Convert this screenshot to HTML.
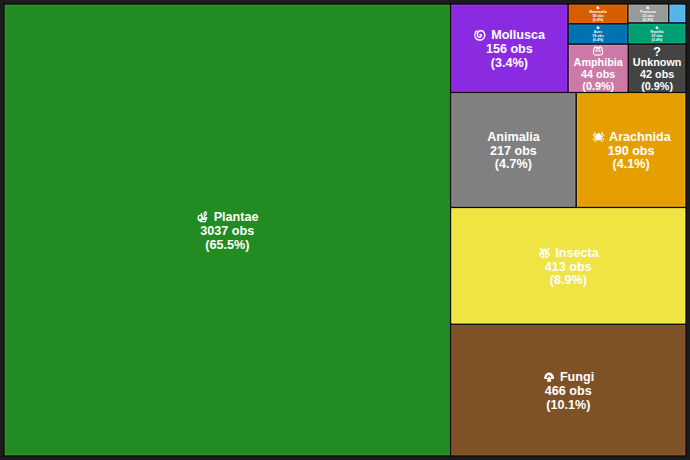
<!DOCTYPE html>
<html><head><meta charset="utf-8"><style>
html,body{margin:0;padding:0;background:#1c1c1c;width:690px;height:460px;overflow:hidden;position:relative}
svg.bg{position:absolute;left:0;top:0}
.ln{position:absolute;transform:translateX(-50%);color:#fff;font-family:"Liberation Sans",sans-serif;font-weight:bold;white-space:nowrap;line-height:0}
.l{font-size:12.6px}
.m{font-size:10.8px}
.q{font-size:12.4px}
.ic{display:inline-block;width:14px;height:0;position:relative;margin-right:3.5px;vertical-align:baseline}
.ic svg{position:absolute;left:50%;top:var(--o);transform:translate(-50%,-50%)}
.icn{position:absolute;width:0;height:0}
.icn svg{position:absolute;left:0;top:0;transform:translate(-50%,-50%)}
.sm{position:absolute;width:0;height:0}
.sm .inner{position:absolute;left:0;top:0;transform:translate(-50%,-50%) scale(0.36);color:#fff;font-family:"Liberation Sans",sans-serif;font-weight:bold;white-space:nowrap;text-align:center;font-size:10px;line-height:11.2px}
.sic{display:inline-block;width:8px;height:8px;background:#fff;border-radius:45% 55% 35% 40%;opacity:0.9}
</style></head><body>
<svg class="bg" width="690" height="460" viewBox="0 0 690 460">
<g stroke="#0c0c10" stroke-width="1.5">
<rect x="4.00" y="4.00" width="446.60" height="452.00" fill="#228B22"/>
<rect x="450.60" y="324.20" width="235.40" height="131.80" fill="#7F5126"/>
<rect x="450.60" y="207.40" width="235.40" height="116.80" fill="#F0E442"/>
<rect x="450.60" y="92.40" width="125.60" height="115.00" fill="#808080"/>
<rect x="576.20" y="92.40" width="109.80" height="115.00" fill="#E69F00"/>
<rect x="450.60" y="4.00" width="117.50" height="88.40" fill="#8A2BE2"/>
<rect x="568.10" y="44.00" width="60.20" height="48.40" fill="#CC79A7"/>
<rect x="628.30" y="44.00" width="57.70" height="48.40" fill="#444444"/>
<rect x="568.10" y="4.00" width="59.80" height="19.90" fill="#D55E00"/>
<rect x="568.10" y="23.90" width="59.80" height="20.10" fill="#0072B2"/>
<rect x="627.90" y="4.00" width="40.90" height="19.00" fill="#999999"/>
<rect x="668.80" y="4.00" width="17.20" height="19.00" fill="#56B4E9"/>
<rect x="627.90" y="23.00" width="58.10" height="21.00" fill="#009E73"/>
</g><g stroke-width="1" opacity="0.55">
<rect x="5.25" y="5.25" width="444.10" height="449.50" fill="none" stroke="#2eaa2e"/>
<rect x="451.85" y="325.45" width="232.90" height="129.30" fill="none" stroke="#9b6532"/>
<rect x="451.85" y="208.65" width="232.90" height="114.30" fill="none" stroke="#ffff53"/>
<rect x="451.85" y="93.65" width="123.10" height="112.50" fill="none" stroke="#9d9d9d"/>
<rect x="577.45" y="93.65" width="107.30" height="112.50" fill="none" stroke="#ffc106"/>
<rect x="451.85" y="5.25" width="115.00" height="85.90" fill="none" stroke="#a838ff"/>
<rect x="569.35" y="45.25" width="57.70" height="45.90" fill="none" stroke="#f694cb"/>
<rect x="629.55" y="45.25" width="55.20" height="45.90" fill="none" stroke="#565656"/>
<rect x="569.35" y="5.25" width="57.30" height="17.40" fill="none" stroke="#ff7406"/>
<rect x="569.35" y="25.15" width="57.30" height="17.60" fill="none" stroke="#068cd8"/>
<rect x="629.15" y="5.25" width="38.40" height="16.50" fill="none" stroke="#bababa"/>
<rect x="670.05" y="5.25" width="14.70" height="16.50" fill="none" stroke="#6bdaff"/>
<rect x="629.15" y="24.25" width="55.60" height="18.50" fill="none" stroke="#06c08d"/>
</g></svg>
<div class="ln l" style="left:227.30px;top:216.95px"><span class="ic" style="--o:-4.45px"><svg width="12" height="12" viewBox="0 0 12 12"><g fill="none" stroke="#fff" stroke-width="1.25" stroke-linejoin="round">
<ellipse cx="3.3" cy="7.0" rx="2.0" ry="2.7"/>
<ellipse cx="8.35" cy="2.7" rx="1.05" ry="1.9" transform="rotate(15 8.35 2.7)"/>
<path d="M2.8 8.3 L9.2 8.3 L8.5 10.7 L3.5 10.7 Z"/>
<path d="M5.6 8.2 L4.8 3.8 M6.4 8.2 L7.9 4.6 M7.4 8 L9.6 7"/></g>
<g fill="#fff"><ellipse cx="4.6" cy="3.1" rx="0.8" ry="1.2"/><ellipse cx="9.3" cy="6.9" rx="1.4" ry="0.9"/></g></svg></span>Plantae</div>
<div class="ln l" style="left:227.30px;top:230.75px">3037 obs</div>
<div class="ln l" style="left:227.30px;top:244.55px">(65.5%)</div>
<div class="ln l" style="left:568.30px;top:377.05px"><span class="ic" style="--o:-4.2px"><svg width="11" height="10" viewBox="0 0 11 10"><g fill="#fff">
<path d="M0.6 7 C0.4 3 3 0.6 5.5 0.6 C8 0.6 10.6 3 10.4 7 Z"/><path d="M3.8 6.5 L7.2 6.5 L7.6 9.8 L3.4 9.8 Z"/></g>
<path d="M3 6 C3 4.5 4 3 5.2 3 C6.2 3.2 7 4.5 7.6 6 Z" fill="#7F5126"/><rect x="4.5" y="4.8" width="2" height="2.2" fill="#fff"/></svg></span>Fungi</div>
<div class="ln l" style="left:568.30px;top:390.85px">466 obs</div>
<div class="ln l" style="left:568.30px;top:404.65px">(10.1%)</div>
<div class="ln l" style="left:568.30px;top:252.75px"><span class="ic" style="--o:-3.75px"><svg width="12" height="11" viewBox="0 0 12 11"><g stroke="#fff" stroke-width="1.1" stroke-linecap="round"><path d="M3.6 2.6 L1.1 0.7 M8.4 2.6 L10.9 0.7"/></g><g fill="#fff">
<ellipse cx="6" cy="3.3" rx="2.8" ry="2.1"/>
<ellipse cx="6" cy="6.9" rx="5.2" ry="4.1"/>
</g><g fill="#F0E442"><rect x="5.55" y="4.6" width="0.9" height="6.4"/><ellipse cx="3.3" cy="8.1" rx="1.1" ry="1.4"/><ellipse cx="8.7" cy="8.1" rx="1.1" ry="1.4"/><path d="M4.2 3.9 Q6 3 7.8 3.9 L7.8 4.5 Q6 3.7 4.2 4.5 Z"/><ellipse cx="2.6" cy="5.3" rx="0.8" ry="0.5"/><ellipse cx="9.4" cy="5.3" rx="0.8" ry="0.5"/></g></svg></span>Insecta</div>
<div class="ln l" style="left:568.30px;top:266.55px">413 obs</div>
<div class="ln l" style="left:568.30px;top:280.35px">(8.9%)</div>
<div class="ln l" style="left:513.40px;top:136.85px">Animalia</div>
<div class="ln l" style="left:513.40px;top:150.65px">217 obs</div>
<div class="ln l" style="left:513.40px;top:164.45px">(4.7%)</div>
<div class="ln l" style="left:631.10px;top:136.85px"><span class="ic" style="--o:-3.7px"><svg width="12" height="11" viewBox="0 0 12 11"><g stroke="#fff" stroke-width="1.1" fill="none" stroke-linecap="round">
<path d="M4.6 4.2 L2.6 2.8 L2.2 0.8 M4.4 5.4 L1.6 4.6 L0.6 3 M4.4 6.4 L1.6 7.2 L0.8 8.6 M4.8 7.4 L3 9 L2.6 10.4
M7.4 4.2 L9.4 2.8 L9.8 0.8 M7.6 5.4 L10.4 4.6 L11.4 3 M7.6 6.4 L10.4 7.2 L11.2 8.6 M7.2 7.4 L9 9 L9.4 10.4"/></g>
<ellipse cx="6" cy="6" rx="2.6" ry="2.9" fill="#fff"/><ellipse cx="6" cy="2.7" rx="1.5" ry="1.2" fill="#fff"/></svg></span>Arachnida</div>
<div class="ln l" style="left:631.10px;top:150.65px">190 obs</div>
<div class="ln l" style="left:631.10px;top:164.45px">(4.1%)</div>
<div class="ln l" style="left:509.35px;top:35.15px"><span class="ic" style="--o:-3.85px"><svg width="12" height="12" viewBox="0 0 12 12"><path d="M2.53 2.00 L2.15 2.30 L1.80 2.63 L1.48 3.00 L1.20 3.39 L0.95 3.81 L0.75 4.25 L0.60 4.71 L0.49 5.18 L0.42 5.66 L0.40 6.14 L0.43 6.63 L0.50 7.11 L0.62 7.57 L0.79 8.03 L1.00 8.47 L1.25 8.88 L1.53 9.27 L1.86 9.63 L2.22 9.96 L2.60 10.25 L3.02 10.50 L3.45 10.71 L3.91 10.87 L4.38 10.99 L4.86 11.07 L5.34 11.10 L5.82 11.08 L6.30 11.02 L6.77 10.91 L7.23 10.75 L7.67 10.55 L8.09 10.31 L8.49 10.03 L8.85 9.71 L9.19 9.36 L9.49 8.98 L9.75 8.57 L9.96 8.14 L10.14 7.69 L10.27 7.22 L10.36 6.75 L10.40 6.27 L10.39 5.78 L10.34 5.30 L10.24 4.83 L10.09 4.37 L9.90 3.92 L9.67 3.49 L9.40 3.09 L9.09 2.72 L8.74 2.38 L8.36 2.09 L7.89 1.93 L7.42 1.83 L6.95 1.78 L6.49 1.78 L6.05 1.83 L5.63 1.92 L5.23 2.05 L4.85 2.22 L4.51 2.42 L4.21 2.65 L3.93 2.90 L3.70 3.18 L3.50 3.46 L3.34 3.76 L3.22 4.06 L3.14 4.36 L3.10 4.66 L3.09 4.95 L3.11 5.23 L3.10 5.47 L3.07 5.69 L3.06 5.92 L3.07 6.15 L3.10 6.37 L3.16 6.59 L3.23 6.80 L3.33 7.00 L3.44 7.19 L3.57 7.36 L3.71 7.52 L3.87 7.66 L4.04 7.79 L4.22 7.90 L4.41 7.99 L4.60 8.05 L4.80 8.10 L5.00 8.14 L5.20 8.15 L5.40 8.14 L5.60 8.11 L5.79 8.06 L5.97 8.00 L6.14 7.92 L6.31 7.82 L6.46 7.71 L6.60 7.58 L6.72 7.45 L6.83 7.30 L6.93 7.15 L7.00 6.99 L7.07 6.82 L7.10 6.65 L7.07 6.46 L7.02 6.29 L6.96 6.13 L6.88 5.99 L6.79 5.86 L6.69 5.74 L6.58 5.65 L6.47 5.57 L6.35 5.51 L6.23 5.46 L6.11 5.44 L5.99 5.43 L5.88 5.43 L5.78 5.45 L5.68 5.49 L5.60 5.53" fill="none" stroke="#fff" stroke-width="1.5" stroke-linecap="round"/></svg></span>Mollusca</div>
<div class="ln l" style="left:509.35px;top:48.95px">156 obs</div>
<div class="ln l" style="left:509.35px;top:62.75px">(3.4%)</div>
<div class="icn" style="left:598.20px;top:50.70px"><svg width="11" height="10" viewBox="0 0 11 10"><g fill="none" stroke="#fff" stroke-width="1.2">
<path d="M2.2 1.2 C3.2 0.4 4.2 1 4.4 1.8 L6.6 1.8 C6.8 1 7.8 0.4 8.8 1.2 C9.6 2 9.6 3 9.4 3.6 C10.4 5 10.4 7.4 9.4 8.4 C8.4 9.4 2.6 9.4 1.6 8.4 C0.6 7.4 0.6 5 1.6 3.6 C1.4 3 1.4 2 2.2 1.2 Z"/>
<path d="M2.8 5.8 C4 4.4 7 4.4 8.2 5.8"/><path d="M3.2 3.2 C4 2.6 7 2.6 7.8 3.2"/></g></svg></div>
<div class="ln m" style="left:598.20px;top:62.40px">Amphibia</div>
<div class="ln m" style="left:598.20px;top:74.20px">44 obs</div>
<div class="ln m" style="left:598.20px;top:86.00px">(0.9%)</div>
<div class="ln q" style="left:657.15px;top:52.20px">?</div>
<div class="ln m" style="left:657.15px;top:62.40px">Unknown</div>
<div class="ln m" style="left:657.15px;top:74.20px">42 obs</div>
<div class="ln m" style="left:657.15px;top:86.00px">(0.9%)</div>
<div class="sm" style="left:598.00px;top:33.95px"><div class="inner"><span class="sic"></span><br>Aves<br>18 obs<br>(0.4%)</div></div>
<div class="sm" style="left:598.00px;top:13.95px"><div class="inner"><span class="sic"></span><br>Mammalia<br>18 obs<br>(0.4%)</div></div>
<div class="sm" style="left:656.95px;top:33.50px"><div class="inner"><span class="sic"></span><br>Reptilia<br>18 obs<br>(0.4%)</div></div>
<div class="sm" style="left:648.35px;top:13.50px"><div class="inner"><span class="sic"></span><br>Protozoa<br>12 obs<br>(0.3%)</div></div>
</body></html>
